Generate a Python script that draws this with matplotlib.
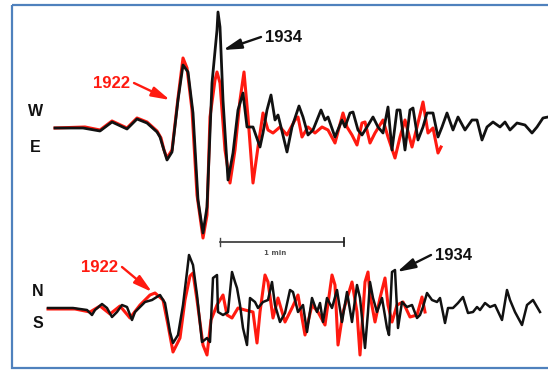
import matplotlib
matplotlib.use("Agg")
import matplotlib.pyplot as plt
from matplotlib.patches import Rectangle

# traces, (x, y) in image pixels, y down
ew_1934_x = [55, 83, 100, 112, 127, 137, 147, 157, 160, 163, 167, 172, 178, 183, 188, 193, 198, 203, 207, 212,
             217, 218, 220, 223, 228, 233, 238, 243, 247, 253, 260, 263, 267, 271, 275, 278, 281, 287, 292, 299,
             303, 308, 313, 321, 325, 328, 335, 342, 345, 350, 353, 358, 362, 367, 373, 378, 383, 388, 392, 397,
             400, 405, 410, 413, 418, 423, 427, 433, 438, 442, 447, 453, 458, 465, 472, 477, 482, 487, 493, 500,
             505, 510, 517, 525, 532, 537, 543, 548]
ew_1934_y = [128, 128, 131, 122, 129, 119, 123, 132, 137, 147, 160, 152, 100, 65, 72, 113, 200, 233, 207, 83,
             30, 12, 27, 100, 180, 153, 110, 93, 127, 127, 147, 133, 110, 95, 120, 115, 127, 152, 127, 106,
             117, 135, 130, 110, 120, 117, 137, 120, 127, 113, 112, 130, 135, 127, 117, 127, 133, 107, 150, 110,
             110, 150, 110, 108, 140, 127, 113, 113, 137, 127, 113, 130, 117, 130, 120, 120, 140, 127, 122, 127,
             122, 130, 123, 125, 133, 127, 118, 117]

ew_1922_x = [55, 85, 100, 112, 127, 137, 147, 157, 161, 164, 167, 172, 178, 183, 187, 192, 197, 203, 207, 210,
             215, 217, 220, 225, 230, 235, 240, 244, 248, 253, 258, 263, 268, 273, 280, 287, 295, 298, 302, 308,
             315, 322, 328, 335, 343, 347, 352, 357, 362, 365, 370, 375, 383, 388, 395, 400, 405, 412, 417, 423,
             428, 433, 438, 441]
ew_1922_y = [128, 127, 130, 121, 128, 118, 122, 131, 138, 150, 158, 150, 98, 58, 68, 110, 195, 238, 215, 117,
             80, 72, 83, 150, 183, 150, 100, 72, 117, 183, 147, 113, 130, 133, 127, 135, 120, 117, 137, 127,
             133, 127, 130, 143, 113, 127, 135, 145, 123, 122, 143, 133, 120, 137, 158, 137, 120, 147, 127, 102,
             133, 128, 153, 147]

ns_1934_x = [48, 73, 87, 92, 95, 102, 107, 112, 117, 122, 127, 132, 135, 140, 145, 152, 160, 165, 170, 173,
             178, 183, 187, 189, 193, 197, 202, 207, 210, 213, 217, 218, 223, 228, 232, 235, 237, 240, 243, 247,
             250, 255, 258, 263, 268, 272, 275, 280, 285, 290, 293, 298, 303, 307, 312, 317, 320, 323, 327, 332,
             337, 342, 347, 352, 357, 360, 365, 368, 370, 373, 377, 382, 387, 389, 392, 395, 398, 402, 407, 412,
             417, 420, 423, 427, 432, 437, 440, 445, 448, 453, 458, 463, 468, 473, 477, 480, 485, 490, 495, 502,
             507, 510, 515, 522, 527, 533, 540]
ns_1934_y = [308, 308, 310, 315, 310, 304, 308, 317, 312, 305, 307, 320, 312, 307, 302, 300, 295, 303, 332, 343,
             335, 305, 272, 255, 265, 295, 342, 338, 342, 278, 275, 312, 315, 312, 272, 282, 288, 305, 328, 345,
             298, 302, 308, 302, 300, 282, 305, 322, 313, 290, 292, 312, 305, 332, 298, 312, 303, 322, 298, 308,
             290, 322, 292, 322, 285, 298, 348, 312, 282, 298, 312, 298, 328, 335, 272, 270, 328, 302, 307, 305,
             318, 315, 307, 293, 300, 302, 298, 323, 308, 308, 303, 297, 313, 312, 307, 310, 303, 307, 305, 320,
             290, 300, 312, 325, 305, 300, 312]

ns_1922_x = [48, 75, 90, 100, 110, 120, 130, 140, 150, 155, 163, 168, 173, 180, 185, 190, 193, 197, 203, 207,
             211, 217, 223, 227, 232, 238, 245, 253, 257, 260, 265, 268, 273, 278, 285, 292, 298, 305, 312, 318,
             325, 332, 335, 338, 343, 352, 357, 360, 365, 368, 370, 375, 380, 385, 388, 392, 397, 403, 410, 417,
             422, 425]
ns_1922_y = [309, 309, 312, 306, 314, 306, 318, 305, 295, 293, 300, 325, 352, 338, 300, 276, 273, 300, 345, 355,
             320, 305, 295, 315, 318, 308, 310, 312, 343, 312, 275, 282, 318, 298, 322, 308, 295, 335, 305, 312,
             325, 275, 285, 345, 312, 282, 312, 355, 282, 272, 295, 322, 298, 278, 305, 322, 305, 302, 317, 315,
             297, 312]

fig = plt.figure(figsize=(5.48, 3.70), dpi=100)
ax = fig.add_axes([0, 0, 1, 1])
ax.set_xlim(0, 548)
ax.set_ylim(370, 0)
ax.axis("off")

ax.add_patch(Rectangle((11.5, 5), 560, 363, fill=False, edgecolor="#4f81bd", lw=1.6, clip_on=False))

red = "#ff1a10"
blk = "#111111"
ax.plot(ew_1922_x, ew_1922_y, color=red, lw=2.2, solid_joinstyle="round")
ax.plot(ew_1934_x, ew_1934_y, color=blk, lw=2.0, solid_joinstyle="round")
ax.plot(ns_1922_x, ns_1922_y, color=red, lw=2.2, solid_joinstyle="round")
ax.plot(ns_1934_x, ns_1934_y, color=blk, lw=1.8, solid_joinstyle="round")

# component letters
lab = dict(fontsize=11.5, fontweight="bold", family="Liberation Sans", ha="center", va="center", color=blk)
ax.text(36, 112, "W", **lab)
ax.text(35, 147, "E", **lab)
ax.text(38, 291, "N", **lab)
ax.text(38, 323, "S", **lab)

# year labels and their arrows (tail -> head)
def tag(txt, pos, tail, head, col):
    ax.text(pos[0], pos[1], txt, color=col, fontsize=12, fontweight="bold",
            family="Liberation Sans", ha="center", va="center")
    ax.annotate("", xy=head, xytext=tail,
                arrowprops=dict(arrowstyle="-|>,head_length=1.1,head_width=0.3", color=col, lw=1.7,
                                shrinkA=0, shrinkB=0))

tag("1922", (112, 83), (134, 83), (170, 100), red)
tag("1934", (283, 38), (261, 37), (223, 50), blk)
tag("1922", (99, 268), (122, 267), (152, 292), red)
tag("1934", (453, 255), (431, 255), (397, 272), blk)

# scale bar
ax.plot([220, 344], [242, 242], color="#333333", lw=1.2)
ax.plot([220, 220], [238, 246], color="#444444", lw=1.0)
ax.plot([344, 344], [238, 246], color="#222222", lw=1.3)
ax.text(275, 253, "1 min", fontsize=5, color="#555555", ha="center", va="center", fontweight="bold")

fig.savefig("out.png", dpi=100)
